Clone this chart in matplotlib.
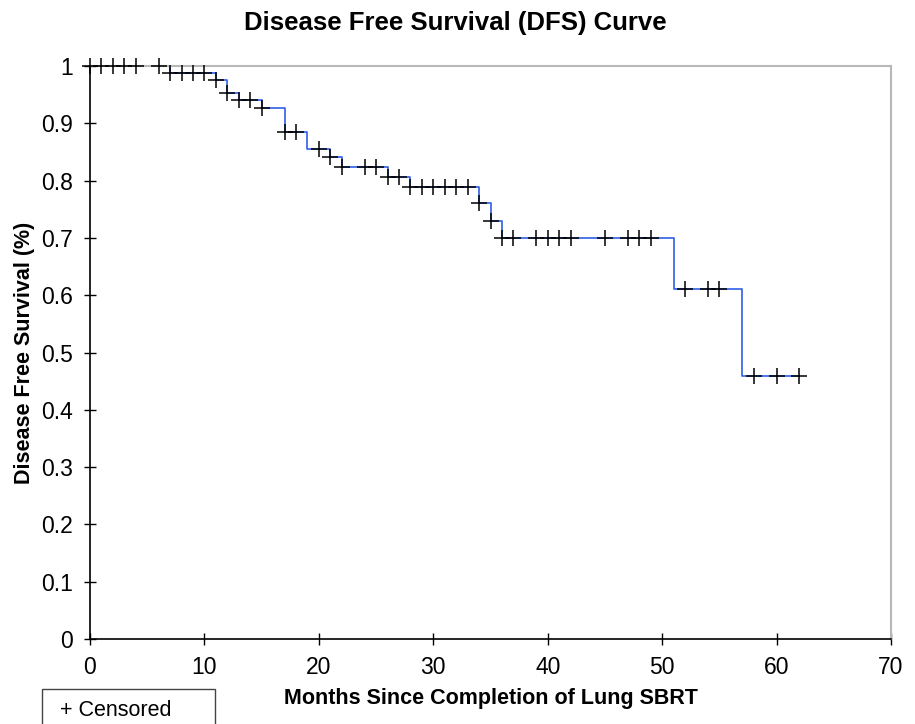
import numpy as np
import matplotlib.pyplot as plt
from matplotlib.patches import Rectangle

plt.rcParams["font.family"] = ["Liberation Sans", "DejaVu Sans"]

# Kaplan-Meier steps: month of each drop and survival level after it
event_months = [7, 11, 12, 13, 15, 17, 19, 21, 22, 26, 28, 34, 35, 36, 51, 57]
surv_levels = [0.988, 0.976, 0.953, 0.941, 0.927, 0.885, 0.855, 0.841, 0.824,
               0.806, 0.789, 0.761, 0.730, 0.700, 0.611, 0.459]
last_month = 62

# censored observations (months)
censor_months = [0, 1, 2, 3, 4, 6, 7, 8, 9, 10, 11, 12, 13, 14, 15, 17, 18,
                 20, 21, 22, 24, 25, 26, 27, 28, 29, 30, 31, 32, 33, 34, 35,
                 36, 37, 39, 40, 41, 42, 45, 47, 48, 49, 52, 54, 55, 58, 60, 62]

x_ticks = [0, 10, 20, 30, 40, 50, 60, 70]
y_ticks = [0, 0.1, 0.2, 0.3, 0.4, 0.5, 0.6, 0.7, 0.8, 0.9, 1]
y_tick_labels = ["0", "0.1", "0.2", "0.3", "0.4", "0.5", "0.6", "0.7", "0.8", "0.9", "1"]

# build step curve
step_x = np.array([0] + event_months + [last_month])
step_y = np.array([1.0] + surv_levels + [surv_levels[-1]])

# survival at each censored time
idx = np.searchsorted(event_months, censor_months, side="right")
censor_y = np.array([1.0] + surv_levels)[idx]

fig = plt.figure(figsize=(9.15, 7.24), dpi=100)
ax = fig.add_axes([90 / 915, 1 - 639 / 724, 801 / 915, 573 / 724])

ax.step(step_x, step_y, where="post", color="#2f5fe8", lw=1.2, zorder=2)
ax.plot(censor_months, censor_y, "+", color="black", ms=11, mew=1.1,
        zorder=3, clip_on=False)

ax.set_xlim(0, 70)
ax.set_ylim(0, 1)
ax.set_xticks(x_ticks)
ax.set_yticks(y_ticks)
ax.set_yticklabels(y_tick_labels)
ax.tick_params(direction="inout", length=9, width=1, labelsize=16.5,
               color="black")
ax.tick_params(axis="x", pad=8)
ax.tick_params(axis="y", pad=8)

for s in ["left", "bottom"]:
    ax.spines[s].set_color("black")
    ax.spines[s].set_linewidth(1.2)
for s in ["top", "right"]:
    ax.spines[s].set_color("#b8b8b8")
    ax.spines[s].set_linewidth(1.5)

ax.set_xlabel("Months Since Completion of Lung SBRT", fontsize=15.5,
              fontweight="bold", labelpad=6)
ax.set_ylabel("Disease Free Survival (%)", fontsize=15.5,
              fontweight="bold", labelpad=4)
fig.text(455 / 915, 1 - 23 / 724, "Disease Free Survival (DFS) Curve",
         ha="center", va="center", fontsize=18.5, fontweight="bold")

# legend box (cut off at bottom)
fig.patches.append(Rectangle((42 / 915, -0.02), 173 / 915, 0.02 + 35 / 724,
                             transform=fig.transFigure, fill=False,
                             edgecolor="#444444", lw=1))
fig.text(60 / 915, 1 - 711 / 724, "+ Censored", ha="left", va="center",
         fontsize=15.5)

fig.savefig("out.png", dpi=100)
